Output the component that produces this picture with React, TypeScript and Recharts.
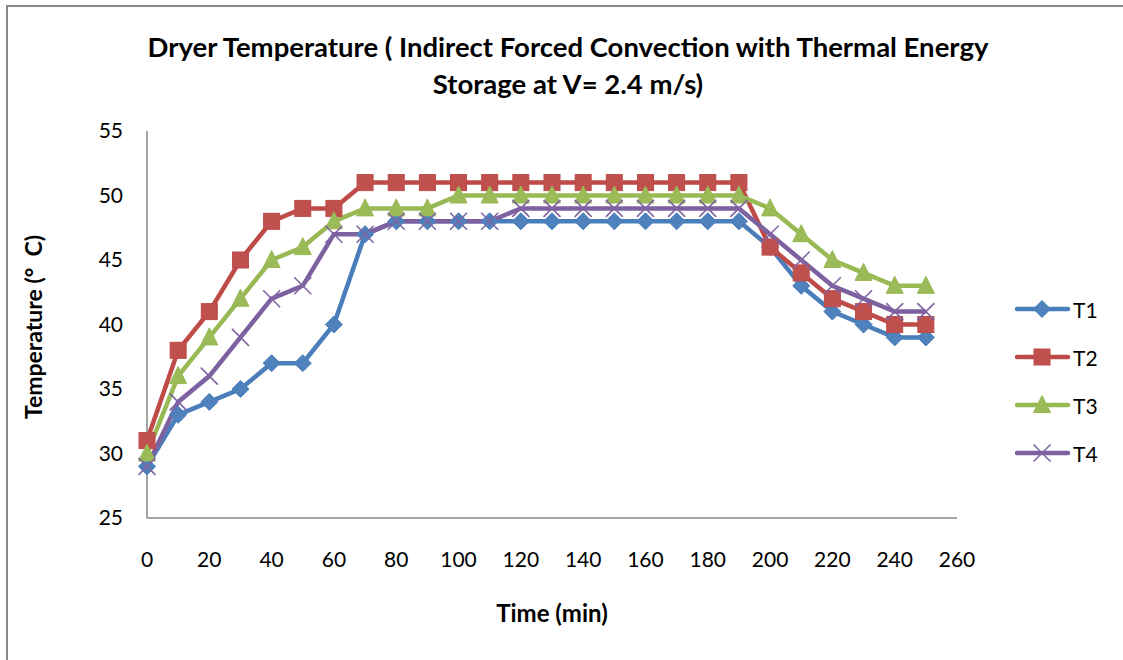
import React from "react";
import { LineChart, Line, XAxis, YAxis, Legend, Label } from "recharts";

// sampling times (min) and dryer temperatures (°C) for the four probes
const times = [0, 10, 20, 30, 40, 50, 60, 70, 80, 90, 100, 110, 120, 130, 140, 150, 160, 170, 180, 190, 200, 210, 220, 230, 240, 250];
const t1 = [29, 33, 34, 35, 37, 37, 40, 47, 48, 48, 48, 48, 48, 48, 48, 48, 48, 48, 48, 48, 46, 43, 41, 40, 39, 39];
const t2 = [31, 38, 41, 45, 48, 49, 49, 51, 51, 51, 51, 51, 51, 51, 51, 51, 51, 51, 51, 51, 46, 44, 42, 41, 40, 40];
const t3 = [30, 36, 39, 42, 45, 46, 48, 49, 49, 49, 50, 50, 50, 50, 50, 50, 50, 50, 50, 50, 49, 47, 45, 44, 43, 43];
const t4 = [29, 34, 36, 39, 42, 43, 47, 47, 48, 48, 48, 48, 49, 49, 49, 49, 49, 49, 49, 49, 47, 45, 43, 42, 41, 41];

const xTicks = [0, 20, 40, 60, 80, 100, 120, 140, 160, 180, 200, 220, 240, 260];
const yTicks = [25, 30, 35, 40, 45, 50, 55];

type MarkerKind = "diamond" | "square" | "triangle" | "cross";

const series: { key: string; line: string; fill: string; marker: MarkerKind }[] = [
  { key: "T1", line: "#4A7EBB", fill: "#4F81BD", marker: "diamond" },
  { key: "T2", line: "#BE4B48", fill: "#C0504D", marker: "square" },
  { key: "T3", line: "#98B954", fill: "#9BBB59", marker: "triangle" },
  { key: "T4", line: "#7D60A0", fill: "#8064A2", marker: "cross" },
];

const data = times.map((t, i) => ({ time: t, T1: t1[i], T2: t2[i], T3: t3[i], T4: t4[i] }));

const FONT = "Lato, 'Open Sans', sans-serif";
const AXIS = "#868686";

function Marker({ kind, cx, cy, fill, stroke }: { kind: MarkerKind; cx: number; cy: number; fill: string; stroke: string }) {
  if (cx == null || cy == null) return null;
  const h = 8.5;
  if (kind === "diamond") {
    return <polygon points={`${cx},${cy - h} ${cx + h},${cy} ${cx},${cy + h} ${cx - h},${cy}`} fill={fill} stroke={stroke} strokeWidth={1} />;
  }
  if (kind === "square") {
    return <rect x={cx - 8} y={cy - 8} width={16} height={16} fill={fill} stroke={stroke} strokeWidth={1} />;
  }
  if (kind === "triangle") {
    return <polygon points={`${cx},${cy - h - 1} ${cx + h},${cy + h - 1} ${cx - h},${cy + h - 1}`} fill={fill} stroke={stroke} strokeWidth={1} />;
  }
  return (
    <g stroke={fill} strokeWidth={1.6}>
      <line x1={cx - h} y1={cy - h} x2={cx + h} y2={cy + h} />
      <line x1={cx - h} y1={cy + h} x2={cx + h} y2={cy - h} />
    </g>
  );
}

function LegendBox() {
  return (
    <div style={{ fontFamily: FONT, fontSize: 21, color: "#000" }}>
      {series.map((s) => (
        <div key={s.key} style={{ height: 48, display: "flex", alignItems: "center" }}>
          <svg width={56} height={22}>
            <line x1={2} y1={11} x2={53} y2={11} stroke={s.line} strokeWidth={4.5} strokeLinecap="round" />
            <Marker kind={s.marker} cx={27} cy={11} fill={s.fill} stroke={s.line} />
          </svg>
          <span style={{ marginLeft: 2 }}>{s.key}</span>
        </div>
      ))}
    </div>
  );
}

export default function App() {
  return (
    <div style={{ position: "fixed", left: 0, top: 0, width: 1123, height: 660, overflow: "hidden", background: "#fff" }}>
      <div
        style={{
          position: "absolute",
          left: 6,
          top: 5,
          width: 1300,
          height: 900,
          borderLeft: "2px solid #878787",
          borderTop: "2px solid #878787",
        }}
      />
      <div
        style={{
          position: "absolute",
          left: 68,
          top: 28,
          width: 1000,
          textAlign: "center",
          fontFamily: FONT,
          fontWeight: 700,
          fontSize: 27.5,
          lineHeight: "37px",
          whiteSpace: "nowrap",
          color: "#000",
        }}
      >
        Dryer Temperature ( Indirect Forced Convection with Thermal Energy
        <br />
        Storage at V= 2.4 m/s)
      </div>
      <div style={{ position: "absolute", left: 0, top: 0 }}>
        <LineChart width={1123} height={660} data={data} margin={{ top: 131, right: 66, bottom: 32, left: 87 }}>
          <XAxis
            dataKey="time"
            type="number"
            domain={[0, 260]}
            ticks={xTicks}
            interval={0}
            height={110}
            tickSize={0}
            tickMargin={34}
            tickLine={false}
            axisLine={{ stroke: AXIS, strokeWidth: 1.5 }}
            tick={{ fill: "#000", fontSize: 21, fontFamily: FONT }}
          >
            <Label
              value="Time (min)"
              position="insideBottom"
              offset={6}
              style={{ fill: "#000", fontSize: 24, fontWeight: 700, fontFamily: FONT }}
            />
          </XAxis>
          <YAxis
            type="number"
            domain={[25, 55]}
            ticks={yTicks}
            interval={0}
            width={60}
            tickSize={0}
            tickMargin={24}
            tickLine={false}
            axisLine={{ stroke: AXIS, strokeWidth: 1.5 }}
            tick={{ fill: "#000", fontSize: 21, fontFamily: FONT }}
          >
            <Label
              content={() => (
                <text
                  x={33}
                  y={327}
                  transform="rotate(-90 33 327)"
                  textAnchor="middle"
                  dominantBaseline="central"
                  style={{ fill: "#000", fontSize: 23, fontWeight: 700, fontFamily: FONT }}
                >
                  Temperature (°{"\u00a0\u00a0"}C)
                </text>
              )}
            />
          </YAxis>
          <Legend
            layout="vertical"
            align="right"
            verticalAlign="middle"
            content={() => <LegendBox />}
            wrapperStyle={{ width: 100, left: 1015, right: "auto", top: 285 }}
          />
          {series.map((s) => (
            <Line
              key={s.key}
              type="linear"
              dataKey={s.key}
              stroke={s.line}
              strokeWidth={4.5}
              isAnimationActive={false}
              dot={(p: any) => <Marker key={`${s.key}-${p.index}`} kind={s.marker} cx={p.cx} cy={p.cy} fill={s.fill} stroke={s.line} />}
              activeDot={false}
            />
          ))}
        </LineChart>
      </div>
    </div>
  );
}
